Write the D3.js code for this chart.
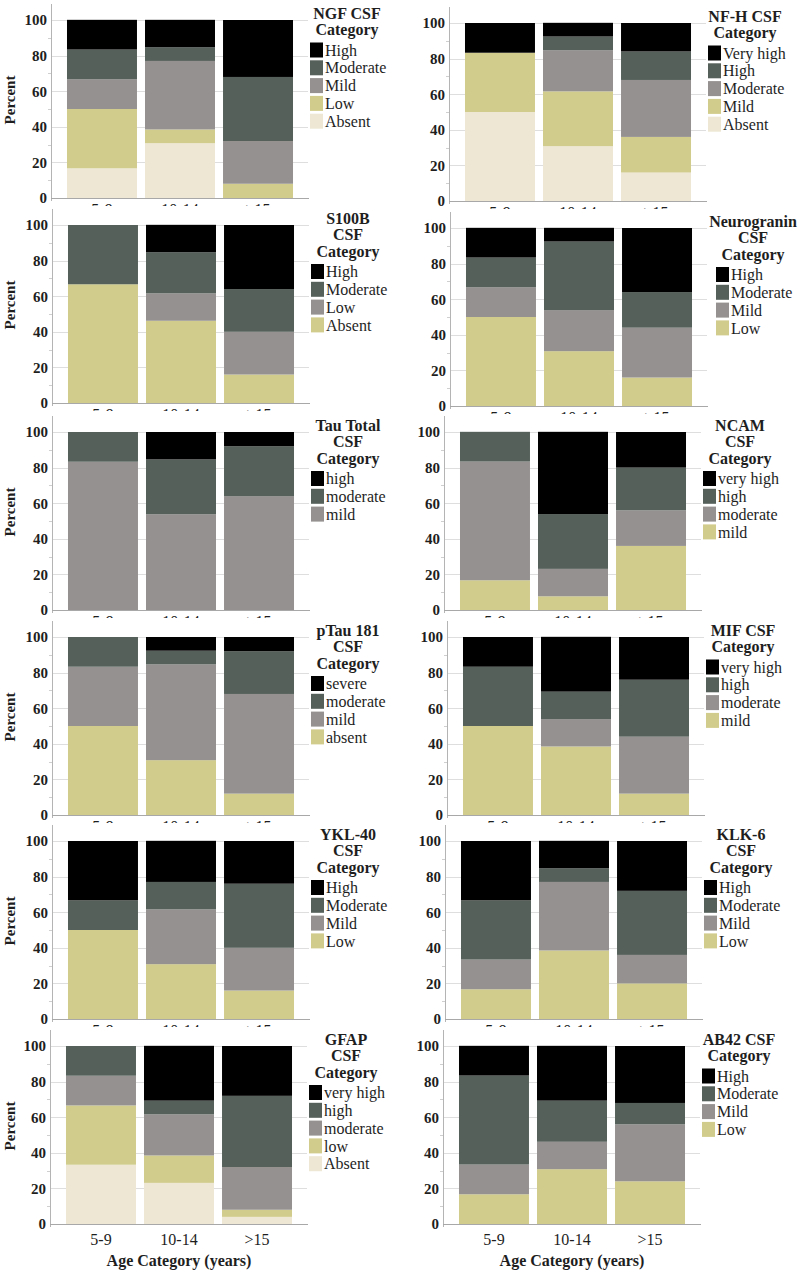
<!DOCTYPE html>
<html>
<head>
<meta charset="utf-8">
<script src="https://cdn.jsdelivr.net/npm/d3@7"></script>
<style>
  html, body { margin: 0; padding: 0; background: #fff; }
  svg { display: block; }
  svg text { font-family: "Liberation Serif", "Tinos", "Times New Roman", "DejaVu Serif", serif; fill: #1e1e1e; }
</style>
</head>
<body>
<svg id="chart" width="800" height="1271"></svg>
<script>
// ---------------- DATA ----------------
const categories = ["5-9", "10-14", ">15"];
const yTicks = [0, 20, 40, 60, 80, 100];
const xAxisTitle = "Age Category (years)";
const yAxisTitle = "Percent";

// levels are listed top-to-bottom (legend order); values per age group in the same order
const ngfTitle = ["NGF CSF", "Category"];
const ngfLevels = ["High", "Moderate", "Mild", "Low", "Absent"];
const ngfValues = [[16.7, 16.7, 16.7, 33.3, 16.7], [15.4, 7.7, 38.5, 7.7, 30.8], [32, 36, 24, 8, 0]];

const nfhTitle = ["NF-H CSF", "Category"];
const nfhLevels = ["Very high", "High", "Moderate", "Mild", "Absent"];
const nfhValues = [[16.7, 0, 0, 33.3, 50], [7.7, 7.7, 23.1, 30.8, 30.8], [16, 16, 32, 20, 16]];

const s100bTitle = ["S100B", "CSF", "Category"];
const s100bLevels = ["High", "Moderate", "Low", "Absent"];
const s100bValues = [[0, 33.3, 0, 66.7], [15.4, 23.1, 15.4, 46.2], [36, 24, 24, 16]];

const neuroTitle = ["Neurogranin", "CSF", "Category"];
const neuroLevels = ["High", "Moderate", "Mild", "Low"];
const neuroValues = [[16.7, 16.7, 16.7, 50], [7.7, 38.5, 23.1, 30.8], [36, 20, 28, 16]];

const tauTitle = ["Tau Total", "CSF", "Category"];
const tauLevels = ["high", "moderate", "mild"];
const tauValues = [[0, 16.7, 83.3], [15.4, 30.8, 53.8], [8, 28, 64]];

const ncamTitle = ["NCAM", "CSF", "Category"];
const ncamLevels = ["very high", "high", "moderate", "mild"];
const ncamValues = [[0, 16.7, 66.7, 16.7], [46.2, 30.8, 15.4, 7.7], [20, 24, 20, 36]];

const ptauTitle = ["pTau 181", "CSF", "Category"];
const ptauLevels = ["severe", "moderate", "mild", "absent"];
const ptauValues = [[0, 16.7, 33.3, 50], [7.7, 7.7, 53.8, 30.8], [8, 24, 56, 12]];

const mifTitle = ["MIF CSF", "Category"];
const mifLevels = ["very high", "high", "moderate", "mild"];
const mifValues = [[16.7, 33.3, 0, 50], [30.8, 15.4, 15.4, 38.5], [24, 32, 32, 12]];

const yklTitle = ["YKL-40", "CSF", "Category"];
const yklLevels = ["High", "Moderate", "Mild", "Low"];
const yklValues = [[33.3, 16.7, 0, 50], [23.1, 15.4, 30.8, 30.8], [24, 36, 24, 16]];

const klkTitle = ["KLK-6", "CSF", "Category"];
const klkLevels = ["High", "Moderate", "Mild", "Low"];
const klkValues = [[33.3, 33.3, 16.7, 16.7], [15.4, 7.7, 38.5, 38.5], [28, 36, 16, 20]];

const gfapTitle = ["GFAP", "CSF", "Category"];
const gfapLevels = ["very high", "high", "moderate", "low", "Absent"];
const gfapValues = [[0, 16.7, 16.7, 33.3, 33.3], [30.8, 7.7, 23.1, 15.4, 23.1], [28, 40, 24, 4, 4]];

const ab42Title = ["AB42 CSF", "Category"];
const ab42Levels = ["High", "Moderate", "Mild", "Low"];
const ab42Values = [[16.7, 50, 16.7, 16.7], [30.8, 23.1, 15.4, 30.8], [32, 12, 32, 24]];

// ---------------- STYLE / LAYOUT ----------------
const FONT = "'Liberation Serif', 'Tinos', 'Times New Roman', 'DejaVu Serif', serif";
const palette = ["#000000", "#56605a", "#959190", "#d1cc8c", "#ede7d3"]; // by level position from top

const panels = [
  { title: ngfTitle,   levels: ngfLevels,   values: ngfValues,   col: 0, row: 0, ax: 51,  top: 20,   legDx: 0 },
  { title: nfhTitle,   levels: nfhLevels,   values: nfhValues,   col: 1, row: 0, ax: 449, top: 23,   legDx: 0 },
  { title: s100bTitle, levels: s100bLevels, values: s100bValues, col: 0, row: 1, ax: 52,  top: 225,  legDx: 0 },
  { title: neuroTitle, levels: neuroLevels, values: neuroValues, col: 1, row: 1, ax: 450, top: 228,  legDx: 7 },
  { title: tauTitle,   levels: tauLevels,   values: tauValues,   col: 0, row: 2, ax: 52,  top: 432,  legDx: 0 },
  { title: ncamTitle,  levels: ncamLevels,  values: ncamValues,  col: 1, row: 2, ax: 444, top: 432,  legDx: 0 },
  { title: ptauTitle,  levels: ptauLevels,  values: ptauValues,  col: 0, row: 3, ax: 52,  top: 637,  legDx: 0 },
  { title: mifTitle,   levels: mifLevels,   values: mifValues,   col: 1, row: 3, ax: 447, top: 637,  legDx: 0 },
  { title: yklTitle,   levels: yklLevels,   values: yklValues,   col: 0, row: 4, ax: 52,  top: 841,  legDx: 0 },
  { title: klkTitle,   levels: klkLevels,   values: klkValues,   col: 1, row: 4, ax: 445, top: 841,  legDx: 0 },
  { title: gfapTitle,  levels: gfapLevels,  values: gfapValues,  col: 0, row: 5, ax: 50,  top: 1046, legDx: 0 },
  { title: ab42Title,  levels: ab42Levels,  values: ab42Values,  col: 1, row: 5, ax: 443, top: 1046, legDx: 0 }
];

const plotH = 178;
const plotW = 258;
const lastRow = 5;

const svg = d3.select("#chart");
const defs = svg.append("defs");

panels.forEach((p, pi) => {
  const g = svg.append("g").attr("font-family", FONT);
  const bottom = p.top + plotH;

  const x = d3.scaleBand().domain(categories)
    .range([p.ax, p.ax + plotW]).paddingInner(0.103).paddingOuter(0.205);
  const y = d3.scaleLinear().domain([0, 100]).range([bottom, p.top]);

  // gridlines
  g.append("g").selectAll("line").data(yTicks.filter(t => t > 0)).join("line")
    .attr("x1", p.ax).attr("x2", p.ax + plotW - 1)
    .attr("y1", d => Math.round(y(d)) + 0.5).attr("y2", d => Math.round(y(d)) + 0.5)
    .attr("stroke", "#dedede").attr("stroke-width", 1);

  // stacked bars
  const keys = p.levels.slice().reverse(); // bottom-up
  const rows = categories.map((c, i) => {
    const r = { age: c };
    p.levels.forEach((lv, j) => { r[lv] = p.values[i][j]; });
    return r;
  });
  const series = d3.stack().keys(keys)(rows);
  const color = d3.scaleOrdinal().domain(p.levels).range(palette);

  g.append("g").selectAll("g").data(series).join("g")
    .attr("fill", s => color(s.key))
    .selectAll("rect").data(s => s.filter(d => d[1] - d[0] > 0)).join("rect")
    .attr("x", d => x(d.data.age))
    .attr("width", x.bandwidth())
    .attr("y", d => y(d[1]))
    .attr("height", d => y(d[0]) - y(d[1]));

  // y axis
  const yAxis = d3.axisLeft(y).tickValues(yTicks).tickSize(0).tickPadding(4);
  const ya = g.append("g").attr("transform", `translate(${p.ax},0)`).call(yAxis);
  ya.attr("font-family", FONT).attr("font-size", 15);
  ya.select(".domain").remove();
  ya.selectAll("text").attr("font-weight", "bold").attr("fill", "#1e1e1e");
  // axis line & minor ticks
  g.append("line").attr("x1", p.ax + 0.5).attr("x2", p.ax + 0.5)
    .attr("y1", p.top - 16).attr("y2", bottom + 3)
    .attr("stroke", "#b4b4b4");
  g.append("g").selectAll("line").data(d3.range(10, 101, 20)).join("line")
    .attr("x1", p.ax - 3).attr("x2", p.ax)
    .attr("y1", d => Math.round(y(d)) + 0.5).attr("y2", d => Math.round(y(d)) + 0.5)
    .attr("stroke", "#cfcfcf");

  // x axis line
  g.append("line").attr("x1", p.ax).attr("x2", p.ax + plotW)
    .attr("y1", bottom + 0.5).attr("y2", bottom + 0.5)
    .attr("stroke", "#a8a8a8");

  // x tick labels
  const xa = d3.axisBottom(x).tickSize(0).tickPadding(0);
  if (p.row === lastRow) {
    const xg = g.append("g").attr("transform", `translate(0,${bottom})`).call(xa);
    xg.attr("font-family", FONT).attr("font-size", 16);
    xg.select(".domain").remove();
    xg.selectAll("text").attr("dy", null).attr("y", 21).attr("fill", "#1e1e1e");
    g.append("text").attr("x", p.ax + plotW / 2).attr("y", bottom + 42)
      .attr("text-anchor", "middle").attr("font-size", 16).attr("font-weight", "bold")
      .text(xAxisTitle);
  } else {
    const cid = "clip" + pi;
    defs.append("clipPath").attr("id", cid).append("rect")
      .attr("x", p.ax).attr("y", bottom + 5).attr("width", plotW).attr("height", 3);
    const xg = g.append("g").attr("clip-path", `url(#${cid})`)
      .append("g").attr("transform", `translate(0,${bottom})`).call(xa);
    xg.attr("font-family", FONT).attr("font-size", 16);
    xg.select(".domain").remove();
    xg.selectAll("text").attr("dy", null).attr("y", 17).attr("fill", "#555");
  }

  // y axis title
  if (p.col === 0) {
    g.append("text")
      .attr("transform", `translate(15,${(p.top + bottom) / 2 - 9}) rotate(-90)`)
      .attr("text-anchor", "middle").attr("font-size", 15).attr("font-weight", "bold")
      .text(yAxisTitle);
  }

  // legend
  const lx = p.ax + 259 + p.legDx;
  const nT = p.title.length;
  const lg = g.append("g");
  p.title.forEach((t, i) => {
    lg.append("text").attr("x", lx + 37).attr("y", p.top - 7 + i * 16.5)
      .attr("dy", "0.35em").attr("text-anchor", "middle")
      .attr("font-size", 16).attr("font-weight", "bold").text(t);
  });
  const sy = p.top - 7 + (nT - 1) * 16.5 + 13;
  const items = lg.selectAll("g.item").data(p.levels).join("g").attr("class", "item")
    .attr("transform", (d, i) => `translate(${lx},${sy + i * 17.8})`);
  items.append("rect").attr("width", 13).attr("height", 15).attr("fill", d => color(d));
  items.append("text").attr("x", 15).attr("y", 7.5).attr("dy", "0.35em")
    .attr("font-size", 16).text(d => d);
});
</script>
</body>
</html>
